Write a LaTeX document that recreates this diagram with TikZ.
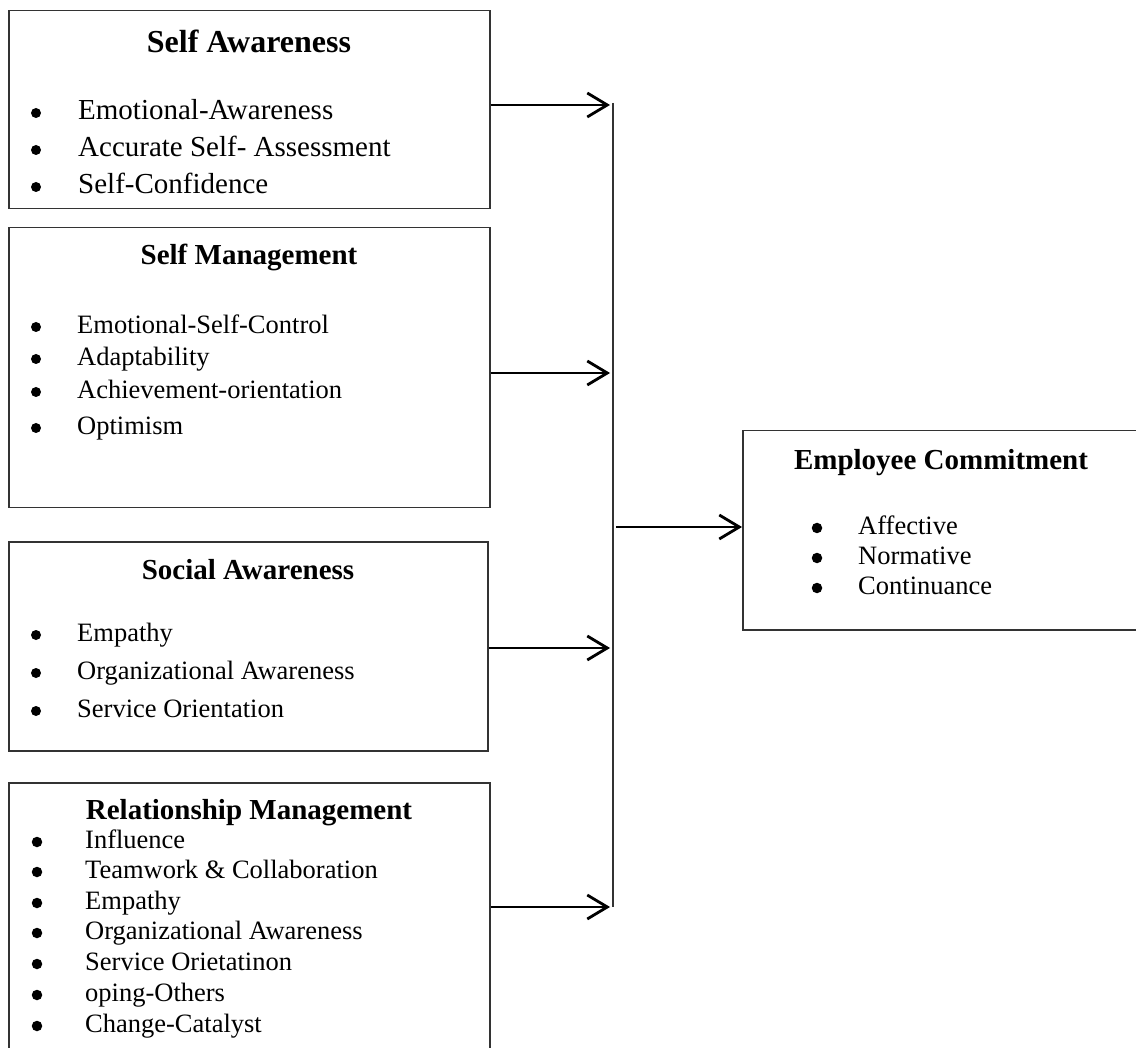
\documentclass[tikz,border=0pt]{standalone}
\usepackage{fontspec}
\setmainfont{Liberation Serif}
\usetikzlibrary{arrows.meta}
\begin{document}
\begin{tikzpicture}[x=1pt,y=-1pt,
  box/.style={draw=black!80, line width=1.5pt, inner sep=0pt, anchor=north west},
  ttl/.style={font=\fontsize{29}{34}\selectfont\bfseries, anchor=base, inner sep=0pt, yshift=-9.6pt},
  ttlbig/.style={font=\fontsize{32}{38}\selectfont\bfseries, anchor=base, inner sep=0pt, yshift=-10.5pt},
  itm/.style={font=\fontsize{26.5}{32}\selectfont, anchor=base west, inner sep=0pt, yshift=-6.2pt},
  itmbig/.style={font=\fontsize{29}{34}\selectfont, anchor=base west, inner sep=0pt, yshift=-6.8pt},
  bul/.style={circle, fill=black, inner sep=0pt, minimum size=10pt},
  bulbig/.style={circle, fill=black, inner sep=0pt, minimum size=10.5pt},
  arr/.style={-{Straight Barb[length=20pt,width=24pt,line width=2.8pt]}, line width=2.8pt},
  spine/.style={draw=black!80, line width=1.5pt}]
\useasboundingbox (0,0) rectangle (1136,1048);
\clip (0,0) rectangle (1136,1048);
\fill[white] (0,0) rectangle (1136,1048);

% boxes
\node[box, minimum width=481, minimum height=198] (sa) at (8,10) {};
\node[box, minimum width=481, minimum height=280] (sm) at (8,227) {};
\node[box, minimum width=479, minimum height=209] (so) at (8,541) {};
\node[box, minimum width=481, minimum height=300] (rm) at (8,782) {};
\node[box, minimum width=420, minimum height=199] (ec) at (742,430) {};

% Self Awareness
\node[ttlbig] (saT) at (249,42) {Self Awareness};
\node[bul] (saB1) at (36,113) {}; \node[itmbig] (sa1) at (78,113) {Emotional-Awareness};
\node[bul] (saB2) at (36,150) {}; \node[itmbig] (sa2) at (78,150) {Accurate Self- Assessment};
\node[bul] (saB3) at (36,187) {}; \node[itmbig] (sa3) at (78,187) {Self-Confidence};

% Self Management
\node[ttl] (smT) at (249,255) {Self Management};
\node[bul] (smB1) at (36,327) {}; \node[itm] (sm1) at (77,327) {Emotional-Self-Control};
\node[bul] (smB2) at (36,359) {}; \node[itm] (sm2) at (77,359) {Adaptability};
\node[bul] (smB3) at (36,392) {}; \node[itm] (sm3) at (77,392) {Achievement-orientation};
\node[bul] (smB4) at (36,428) {}; \node[itm] (sm4) at (77,428) {Optimism};

% Social Awareness
\node[ttl] (soT) at (248,570) {Social Awareness};
\node[bul] (soB1) at (36,635) {}; \node[itm] (so1) at (77,635) {Empathy};
\node[bul] (soB2) at (36,673) {}; \node[itm] (so2) at (77,673) {Organizational Awareness};
\node[bul] (soB3) at (36,711) {}; \node[itm] (so3) at (77,711) {Service Orientation};

% Relationship Management
\node[ttl] (rmT) at (249,810) {Relationship Management};
\node[bulbig] (rmB1) at (37,842) {}; \node[itm] (rm1) at (85,842) {Influence};
\node[bulbig] (rmB2) at (37,872) {}; \node[itm] (rm2) at (85,872) {Teamwork \& Collaboration};
\node[bulbig] (rmB3) at (37,903) {}; \node[itm] (rm3) at (85,903) {Empathy};
\node[bulbig] (rmB4) at (37,933) {}; \node[itm] (rm4) at (85,933) {Organizational Awareness};
\node[bulbig] (rmB5) at (37,964) {}; \node[itm] (rm5) at (85,964) {Service Orietatinon};
\node[bulbig] (rmB6) at (37,995) {}; \node[itm] (rm6) at (85,995) {oping-Others};
\node[bulbig] (rmB7) at (37,1026) {}; \node[itm] (rm7) at (85,1026) {Change-Catalyst};

% Employee Commitment
\node[ttl] (ecT) at (941,460) {Employee Commitment};
\node[bulbig] (ecB1) at (817,528) {}; \node[itm] (ec1) at (858,528) {Affective};
\node[bulbig] (ecB2) at (817,558) {}; \node[itm] (ec2) at (858,558) {Normative};
\node[bulbig] (ecB3) at (817,588) {}; \node[itm] (ec3) at (858,588) {Continuance};

% connectors
\coordinate (jtop) at (613,103);
\coordinate (j1) at (613,105);
\coordinate (j2) at (613,373);
\coordinate (j3) at (613,648);
\coordinate (j4) at (613,907);
\coordinate (j5) at (613,527);
\draw[spine] (jtop) -- (j4);
\draw[arr] (sa.east |- j1) -- ([xshift=-3pt]j1);
\draw[arr] (sm.east |- j2) -- ([xshift=-3pt]j2);
\draw[arr] (so.east |- j3) -- ([xshift=-3pt]j3);
\draw[arr] (rm.east |- j4) -- ([xshift=-3pt]j4);
\draw[arr] ([xshift=3pt]j5) -- (ec.west |- j5);
\end{tikzpicture}
\end{document}
